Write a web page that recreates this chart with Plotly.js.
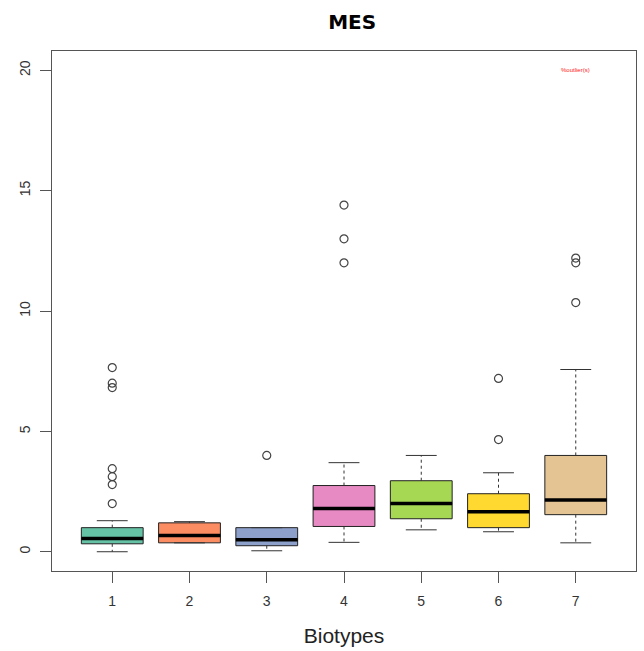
<!DOCTYPE html>
<html>
<head>
<meta charset="utf-8">
<script src="https://cdn.plot.ly/plotly-3.0.1.min.js"></script>
<style>html,body{margin:0;padding:0;background:#fff;}#chart{width:644px;height:651px;}</style>
</head>
<body>
<div id="chart"></div>
<script>
const categories = [1, 2, 3, 4, 5, 6, 7];
const tickLabels = ["1", "2", "3", "4", "5", "6", "7"];
const q1 = [0.33, 0.37, 0.25, 1.05, 1.37, 1.0, 1.54];
const medians = [0.55, 0.67, 0.5, 1.8, 2.0, 1.66, 2.15];
const q3 = [1.0, 1.2, 1.0, 2.75, 2.95, 2.41, 4.0];
const lowerWhisker = [0.0, 0.37, 0.04, 0.39, 0.91, 0.83, 0.37];
const upperWhisker = [1.29, 1.25, 1.0, 3.7, 4.0, 3.28, 7.57];
const outlierGroup = [1, 1, 1, 1, 1, 1, 1, 3, 4, 4, 4, 6, 6, 7, 7, 7];
const outlierValue = [7.65, 7.0, 6.82, 3.45, 3.12, 2.79, 2.0, 4.0, 14.4, 13.0, 12.0, 7.2, 4.66, 12.2, 12.0, 10.35];
const colors = ["#66C2A5", "#FC8D62", "#8DA0CB", "#E78AC3", "#A6D854", "#FFD92F", "#E5C494"];

const boxW = 0.8, capW = 0.4;
const traces = [];

// dashed whiskers
const wx = [], wy = [];
categories.forEach((c, i) => {
  wx.push(c, c, null, c, c, null);
  wy.push(q3[i], upperWhisker[i], null, q1[i], lowerWhisker[i], null);
});
traces.push({type: "scatter", mode: "lines", x: wx, y: wy, line: {color: "#333", width: 1, dash: "3px,3px"}, hoverinfo: "skip", showlegend: false});

// caps
const cx = [], cy = [];
categories.forEach((c, i) => {
  cx.push(c - capW / 2, c + capW / 2, null, c - capW / 2, c + capW / 2, null);
  cy.push(upperWhisker[i], upperWhisker[i], null, lowerWhisker[i], lowerWhisker[i], null);
});
traces.push({type: "scatter", mode: "lines", x: cx, y: cy, line: {color: "#333", width: 1}, hoverinfo: "skip", showlegend: false});

// boxes
categories.forEach((c, i) => {
  traces.push({
    type: "box", x: [c], q1: [q1[i]], median: [medians[i]], q3: [q3[i]],
    lowerfence: [q1[i]], upperfence: [q3[i]], width: boxW, whiskerwidth: 0,
    fillcolor: colors[i], line: {color: "#222", width: 1}, boxpoints: false,
    hoverinfo: "skip", showlegend: false
  });
});

// medians
const mx = [], my = [];
categories.forEach((c, i) => {
  mx.push(c - boxW / 2, c + boxW / 2, null);
  my.push(medians[i], medians[i], null);
});
traces.push({type: "scatter", mode: "lines", x: mx, y: my, line: {color: "#000", width: 3.5}, hoverinfo: "skip", showlegend: false});

// outliers
traces.push({type: "scatter", mode: "markers", x: outlierGroup, y: outlierValue,
  marker: {symbol: "circle-open", size: 8, color: "#444", line: {width: 1.2, color: "#444"}},
  hoverinfo: "skip", showlegend: false});

const layout = {
  width: 644, height: 651,
  margin: {l: 52, r: 8, t: 51, b: 80},
  paper_bgcolor: "#fff", plot_bgcolor: "#fff",
  boxmode: "overlay",
  showlegend: false,
  hovermode: false,
  font: {family: "Liberation Sans, Arial, sans-serif", color: "#222"},
  title: {text: "<b>MES</b>", font: {family: "DejaVu Sans", size: 20, color: "#000"},
    x: 0.514, xref: "paper", xanchor: "center", y: 0.966, yref: "container", yanchor: "middle"},
  xaxis: {range: [0.22, 7.78], tickmode: "array", tickvals: categories, ticktext: tickLabels,
    ticks: "outside", ticklen: 11, tickcolor: "#555", tickwidth: 1, ticklabelstandoff: 6,
    showline: true, linecolor: "#555", linewidth: 1, mirror: true,
    showgrid: false, zeroline: false, tickfont: {size: 14, color: "#333"},
    title: {text: "Biotypes", font: {size: 21, color: "#222"}, standoff: 20}},
  yaxis: {range: [-0.8, 20.8], tickvals: [0, 5, 10, 15, 20], ticktext: ["0", "5", "10", "15", "20"],
    ticks: "outside", ticklen: 11, tickcolor: "#555", tickwidth: 1, tickangle: -90, ticklabelstandoff: 4,
    showline: true, linecolor: "#555", linewidth: 1, mirror: true,
    showgrid: false, zeroline: false, tickfont: {size: 14, color: "#333"}},
  annotations: [{x: 7, y: 20, xref: "x", yref: "y", text: "%outlier(s)", showarrow: false,
    font: {size: 6, color: "#ff2020"}}]
};

Plotly.newPlot("chart", traces, layout, {displayModeBar: false, staticPlot: true});
</script>
</body>
</html>
